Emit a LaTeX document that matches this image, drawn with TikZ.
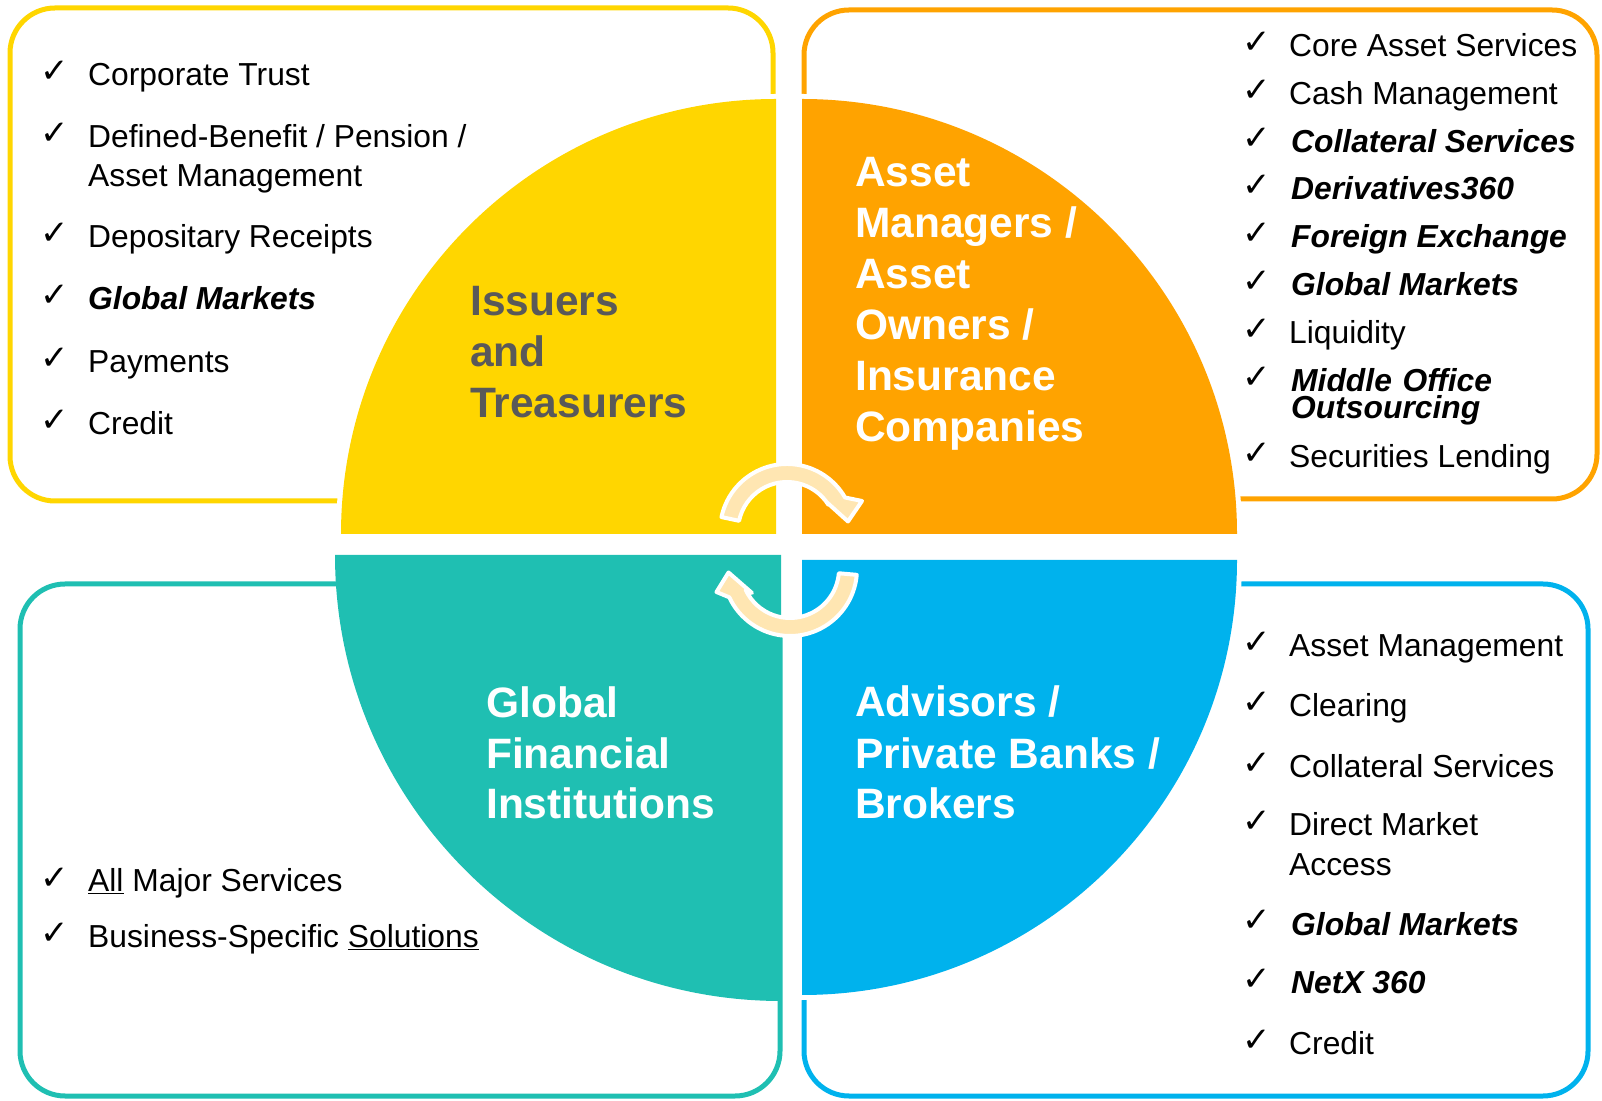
\documentclass[tikz,border=0pt]{standalone}
\usepackage{fontspec}
\setmainfont{Liberation Sans}
\newfontfamily\checkfont{DejaVu Sans}
\usetikzlibrary{calc}

\definecolor{cyellow}{RGB}{255,214,0}
\definecolor{corange}{RGB}{255,163,0}
\definecolor{cteal}{RGB}{31,191,178}
\definecolor{cblue}{RGB}{0,178,237}
\definecolor{carrow}{RGB}{255,230,178}
\definecolor{ctitle}{RGB}{89,89,89}

\newcommand\svcsize{\fontsize{31.8}{38}\selectfont}
\newcommand\titlesize{\fontsize{42.5}{51}\selectfont\bfseries}

\begin{document}
\begin{tikzpicture}[x=1pt,y=1pt,
  panelframe/.style={line width=5pt, rounded corners=45pt},
  quarterdisc/.style={fill=#1, preaction={draw=white, line width=10pt}},
  cyclearrow/.style={fill=carrow, draw=white, line width=4pt, line join=round},
  chk/.style={anchor=base west, inner sep=0pt, font=\checkfont\fontsize{34}{36}\selectfont},
  svc/.style={anchor=base west, inner sep=0pt, font=\svcsize},
  keysvc/.style={anchor=base west, inner sep=0pt, font=\svcsize\bfseries\itshape},
  grouptitle/.style={anchor=base west, inner sep=0pt, font=\titlesize, text=#1},
]
\useasboundingbox (0,0) rectangle (1602,1100);

% rounded outline panels behind the quarter discs
\draw[panelframe, cyellow] (10,599) rectangle (773,1092);
\draw[panelframe, corange] (804,601) rectangle (1597,1090);
\draw[panelframe, cteal]   (20,4) rectangle (780,516);
\draw[panelframe, cblue]   (804,4) rectangle (1588,516);

% four quarter discs around the centre
\path[quarterdisc=cyellow] (776,566) -- (341,566) arc[start angle=180, end angle=90, radius=435pt] -- cycle;
\path[quarterdisc=corange] (802,566) -- (802,1001) arc[start angle=90, end angle=0, radius=435pt] -- cycle;
\fill[cteal] (781,545) -- (335,545) arc[start angle=180, end angle=270, radius=446pt] -- cycle;
\path[quarterdisc=cblue]   (802,540) -- (1237,540) arc[start angle=0, end angle=-90, radius=435pt] -- cycle;

% circular arrows in the middle
\coordinate (c1) at (787,569);
\coordinate (c2) at (790,531);
\path[cyclearrow] ($(c1)+(168:67)$) arc[start angle=168, end angle=30, radius=67pt]
  -- (862,599) -- (848,578.5) -- (827,597.5)
  -- ($(c1)+(32:49)$) arc[start angle=32, end angle=168, radius=49pt] -- cycle;
\path[cyclearrow] ($(c2)+(355:67)$) arc[start angle=355, end angle=205, radius=67pt]
  -- (716.5,508) -- (728.5,527.5) -- (752,507)
  -- ($(c2)+(205:49)$) arc[start angle=205, end angle=355, radius=49pt] -- cycle;

% group titles
\node[grouptitle=ctitle] (t1a) at (470,784) {Issuers};
\node[grouptitle=ctitle] (t1b) at (470,733) {and};
\node[grouptitle=ctitle] (t1c) at (470,682) {Treasurers};

\node[grouptitle=white] (t2a) at (855,913) {Asset};
\node[grouptitle=white] (t2b) at (855,862) {Managers /};
\node[grouptitle=white] (t2c) at (855,811) {Asset};
\node[grouptitle=white] (t2d) at (855,760) {Owners /};
\node[grouptitle=white] (t2e) at (855,709) {Insurance};
\node[grouptitle=white] (t2f) at (855,658) {Companies};

\node[grouptitle=white] (t3a) at (486,382) {Global};
\node[grouptitle=white] (t3b) at (486,331) {Financial};
\node[grouptitle=white] (t3c) at (486,281) {Institutions};

\node[grouptitle=white] (t4a) at (855,383) {Advisors /};
\node[grouptitle=white] (t4b) at (855,331) {Private Banks /};
\node[grouptitle=white] (t4c) at (855,281) {Brokers};

% services of the issuers and treasurers
\foreach \yy/\nm in {1014/a,952/b,852/c,790/d,727/e,665/f}
  \node[chk] (ck1\nm) at (40,\yy+3) {✓};
\node[svc]    (s1a)  at (88,1014) {Corporate Trust};
\node[svc]    (s1b)  at (88,952)  {Defined-Benefit / Pension /};
\node[svc]    (s1b2) at (88,913)  {Asset Management};
\node[svc]    (s1c)  at (88,852)  {Depositary Receipts};
\node[keysvc] (s1d)  at (88,790)  {Global Markets};
\node[svc]    (s1e)  at (88,727)  {Payments};
\node[svc]    (s1f)  at (88,665)  {Credit};

% services of the asset managers and owners
\foreach \yy/\nm in {1043/a,995/b,947/c,900/d,852/e,804/f,756/g,708/h,632/i}
  \node[chk] (ck2\nm) at (1242,\yy+3) {✓};
\node[svc]    (s2a)  at (1289,1043) {Core Asset Services};
\node[svc]    (s2b)  at (1289,995)  {Cash Management};
\node[keysvc] (s2c)  at (1291,947)  {Collateral Services};
\node[keysvc] (s2d)  at (1291,900)  {Derivatives360};
\node[keysvc] (s2e)  at (1291,852)  {Foreign Exchange};
\node[keysvc] (s2f)  at (1291,804)  {Global Markets};
\node[svc]    (s2g)  at (1289,756)  {Liquidity};
\node[keysvc, text width=300pt, align=left,
      font=\fontsize{31.8}{27}\selectfont\bfseries\itshape]
              (s2h)  at (1291,708)  {Middle Office\\Outsourcing};
\node[svc]    (s2i)  at (1289,632)  {Securities Lending};

% services of the global financial institutions
\foreach \yy/\nm in {208/a,153/b}
  \node[chk] (ck3\nm) at (40,\yy+3) {✓};
\node[svc] (s3a) at (88,208) {\underline{All} Major Services};
\node[svc] (s3b) at (88,153) {Business-Specific \underline{Solutions}};

% services of the advisors, private banks and brokers
\foreach \yy/\nm in {443/a,383/b,322.5/c,264/d,165/e,106.4/f,46/g}
  \node[chk] (ck4\nm) at (1242,\yy+3) {✓};
\node[svc]    (s4a)  at (1289,443)   {Asset Management};
\node[svc]    (s4b)  at (1289,383)   {Clearing};
\node[svc]    (s4c)  at (1289,322.5) {Collateral Services};
\node[svc]    (s4d)  at (1289,264)   {Direct Market};
\node[svc]    (s4d2) at (1289,224)   {Access};
\node[keysvc] (s4e)  at (1291,165)   {Global Markets};
\node[keysvc] (s4f)  at (1291,106.4) {NetX 360};
\node[svc]    (s4g)  at (1289,46)    {Credit};
\end{tikzpicture}
\end{document}
